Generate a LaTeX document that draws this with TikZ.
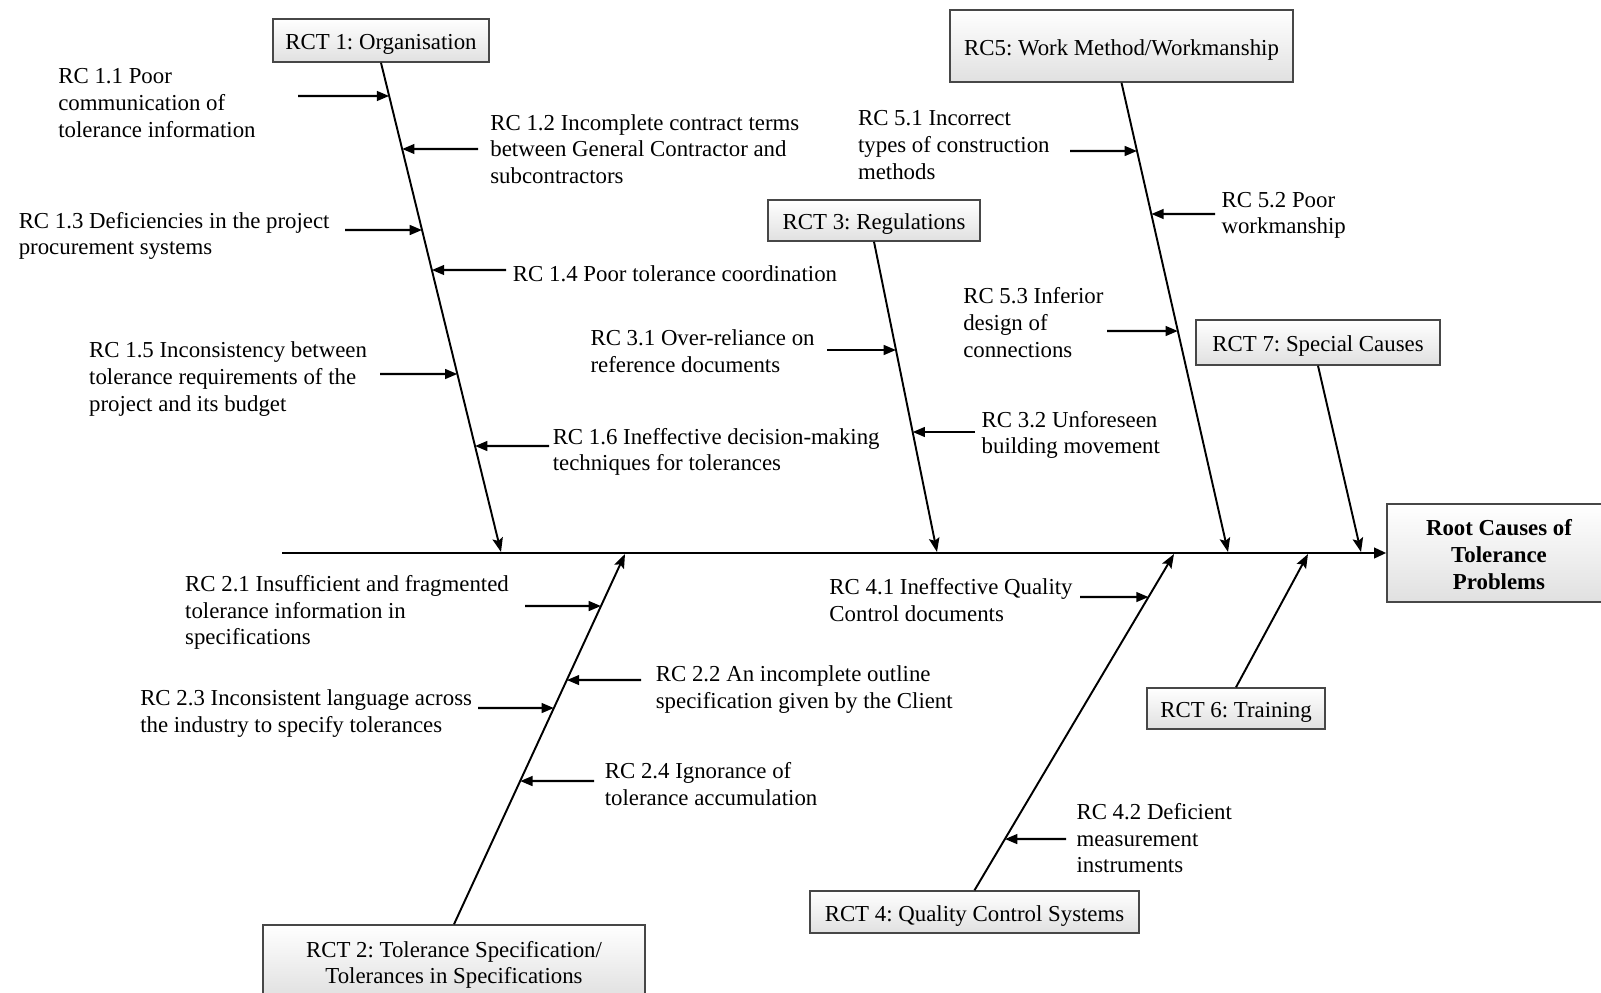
\documentclass[tikz,border=0pt]{standalone}
\usepackage{fontspec}
\setmainfont{Liberation Serif}
\usetikzlibrary{arrows.meta,calc}
\frenchspacing
\newcommand{\subar}[5]{%
  \coordinate (#1s) at (#4,#5);
  \coordinate (#1e) at (intersection cs: first line={(#2)--(#3)}, second line={(#1s)--([xshift=10pt]#1s)});
  \draw[subarrow] (#1s) -- (#1e);}
\newcommand{\lowtext}[1]{\raisebox{-2.3pt}[\height][\depth]{\begin{tabular}{@{}c@{}}#1\end{tabular}}}
\begin{document}
\begin{tikzpicture}[x=0.02cm,y=-0.02cm,
  font=\fontsize{13}{15.2}\selectfont\frenchspacing,
  cat/.style={draw=black!72, line width=0.85pt, top color=white, bottom color=black!12, inner sep=0pt, align=center},
  lbl/.style={anchor=west, align=left, inner sep=0pt},
  bone/.style={line width=1.1pt, -{Stealth[length=8pt,width=6pt,inset=1.5pt]}},
  spine/.style={line width=1.5pt, -{Triangle[length=7pt,width=6pt]}},
  subarrow/.style={line width=1.3pt, -{Triangle[length=7pt,width=5.5pt]}},
]
\useasboundingbox (0,0) rectangle (1601,993);
\fill[white] (0,0) rectangle (1601,993);

% category boxes
\node[cat, minimum width=4.32cm, minimum height=0.86cm] (rct1) at (381,40.5) {\lowtext{RCT 1: Organisation}};
\node[cat, minimum width=6.86cm, minimum height=1.44cm] (rct5) at (1121.5,46) {\lowtext{RC5: Work Method/Workmanship}};
\node[cat, minimum width=4.24cm, minimum height=0.82cm] (rct3) at (874,220.5) {\lowtext{RCT 3: Regulations}};
\node[cat, minimum width=4.88cm, minimum height=0.90cm] (rct7) at (1318,342.5) {\lowtext{RCT 7: Special Causes}};
\node[cat, minimum width=4.48cm, minimum height=1.96cm, font=\fontsize{13}{15.2}\selectfont\bfseries] (root) at (1499,553) {\lowtext{Root Causes of\\Tolerance\\Problems}};
\node[cat, minimum width=3.56cm, minimum height=0.82cm] (rct6) at (1236,708.5) {\lowtext{RCT 6: Training}};
\node[cat, minimum width=6.58cm, minimum height=0.84cm] (rct4) at (974.5,912) {\lowtext{RCT 4: Quality Control Systems}};
\node[cat, minimum width=7.64cm, minimum height=1.44cm] (rct2) at (454,961) {\lowtext{RCT 2: Tolerance Specification/\\Tolerances in Specifications}};

% spine
\coordinate (s0) at (282,553);
\draw[spine] (s0) -- (root.west);

% bones
\coordinate (t1) at (501,552);
\coordinate (t3) at (937,552);
\coordinate (t5) at (1228,552);
\coordinate (t7) at (1361,552);
\coordinate (t2) at (625,554);
\coordinate (t4) at (1174,554);
\coordinate (t6) at (1308,554);
\draw[bone] (rct1.south) -- (t1);
\draw[bone] (rct3.south) -- (t3);
\draw[bone] (rct5.south) -- (t5);
\draw[bone] (rct7.south) -- (t7);
\draw[bone] (rct2.north) -- (t2);
\draw[bone] (rct4.north) -- (t4);
\draw[bone] (rct6.north) -- (t6);

% labels
\node[lbl] (l11) at (58,103) {RC 1.1 Poor\\communication of\\tolerance information};
\node[lbl] (l12) at (490,149) {RC 1.2 Incomplete contract terms\\between General Contractor and\\subcontractors};
\node[lbl] (l13) at (18.4,236) {RC 1.3 Deficiencies in the project\\procurement systems};
\node[lbl] (l14) at (512.6,274) {RC 1.4 Poor tolerance coordination};
\node[lbl] (l15) at (88.8,379) {RC 1.5 Inconsistency between\\tolerance requirements of the\\project and its budget};
\node[lbl] (l16) at (552.4,452) {RC 1.6 Ineffective decision-making\\techniques for tolerances};
\node[lbl] (l31) at (590.2,351) {RC 3.1 Over-reliance on\\reference documents};
\node[lbl] (l32) at (981.3,435) {RC 3.2 Unforeseen\\building movement};
\node[lbl] (l51) at (857.7,145) {RC 5.1 Incorrect\\types of construction\\methods};
\node[lbl] (l52) at (1221.2,215.4) {RC 5.2 Poor\\workmanship};
\node[lbl] (l53) at (962.9,322.7) {RC 5.3 Inferior\\design of\\connections};
\node[lbl] (l21) at (184.8,612.6) {RC 2.1 Insufficient and fragmented\\tolerance information in\\specifications};
\node[lbl] (l22) at (655.5,689.2) {RC 2.2 An incomplete outline\\specification given by the Client};
\node[lbl] (l23) at (139.9,713.7) {RC 2.3 Inconsistent language across\\the industry to specify tolerances};
\node[lbl] (l24) at (604.5,784.2) {RC 2.4 Ignorance of\\tolerance accumulation};
\node[lbl] (l41) at (829.1,600.4) {RC 4.1 Ineffective Quality\\Control documents};
\node[lbl] (l42) at (1076.2,838.3) {RC 4.2 Deficient\\measurement\\instruments};

% sub-cause arrows
\subar{a11}{rct1.south}{t1}{298}{96}
\subar{a12}{rct1.south}{t1}{478}{149}
\subar{a13}{rct1.south}{t1}{345}{230}
\subar{a14}{rct1.south}{t1}{506}{270}
\subar{a15}{rct1.south}{t1}{380}{374}
\subar{a16}{rct1.south}{t1}{549}{446}
\subar{a31}{rct3.south}{t3}{827}{350}
\subar{a32}{rct3.south}{t3}{975}{432}
\subar{a51}{rct5.south}{t5}{1070}{151}
\subar{a52}{rct5.south}{t5}{1215}{214}
\subar{a53}{rct5.south}{t5}{1107}{331}
\subar{a21}{rct2.north}{t2}{525}{606}
\subar{a22}{rct2.north}{t2}{641}{680}
\subar{a23}{rct2.north}{t2}{478}{708}
\subar{a24}{rct2.north}{t2}{594}{781}
\subar{a41}{rct4.north}{t4}{1080}{597}
\subar{a42}{rct4.north}{t4}{1066}{839}
\end{tikzpicture}
\end{document}
